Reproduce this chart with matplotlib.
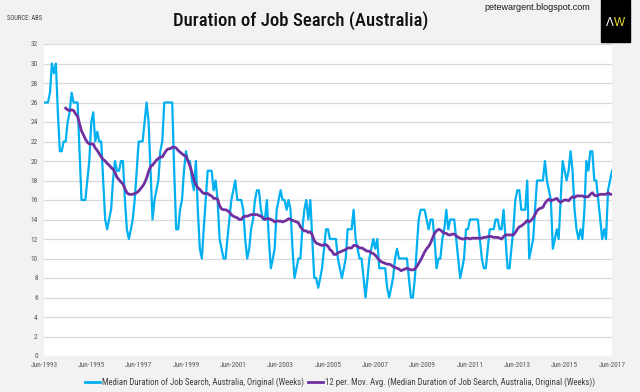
import numpy as np
import pandas as pd
import matplotlib
matplotlib.use("Agg")
import matplotlib.pyplot as plt
import matplotlib.dates as mdates
from matplotlib.lines import Line2D
from matplotlib.patches import Rectangle

# ---------------- data ----------------
start_month = "1993-06-01"
median_weeks = [
    26, 26, 26, 27, 30, 29, 30, 25, 21, 21, 22, 22,
    24, 25, 27, 26, 26, 26, 21, 16, 16, 16, 18, 20,
    24, 25, 22, 23, 22, 22, 18, 14, 13, 14, 15, 18,
    20, 19, 19, 20, 20, 16, 13, 12, 13, 14, 16, 19,
    22, 22, 22, 24, 26, 24, 19, 14, 16, 17, 18, 21,
    22, 26, 26, 26, 26, 26, 19, 13, 13, 15, 16, 19,
    21, 20, 20, 18, 17, 20, 15, 11, 10, 13, 16, 19,
    19, 19, 17, 18, 16, 12, 11, 10, 10, 12, 14, 16,
    17, 18, 16, 16, 16, 15, 12, 10, 11, 13, 14, 16,
    17, 17, 15, 14, 14, 16, 12, 9, 10, 11, 15, 16,
    17, 16, 16, 15, 16, 15, 11, 8, 9, 10, 10, 13,
    15, 16, 14, 16, 12, 8, 8, 7, 8, 9, 11, 13,
    13, 12, 12, 12, 12, 10, 9, 8, 9, 10, 13, 13,
    13, 15, 12, 11, 10, 10, 8, 6, 8, 10, 11, 12,
    11, 12, 9, 9, 9, 9, 7, 6, 7, 8, 10, 11,
    10, 10, 10, 10, 10, 8, 6, 6, 8, 11, 14, 15,
    15, 15, 14, 13, 14, 14, 12, 9, 10, 10, 12, 13,
    15, 13, 14, 14, 14, 12, 10, 8, 9, 10, 13, 13,
    14, 14, 14, 14, 14, 12, 10, 9, 9, 11, 13, 13,
    13, 14, 14, 13, 13, 15, 12, 9, 9, 11, 13, 16,
    17, 17, 15, 15, 15, 18, 10, 11, 12, 15, 18, 18,
    18, 18, 20, 18, 17, 16, 11, 12, 13, 12, 16, 20,
    19, 18, 19, 21, 19, 15, 13, 12, 13, 12, 15, 20,
    19, 21, 21, 18, 18, 16, 14, 12, 13, 12, 17, 18, 19,
]
ma_window = 12
y_ticks = list(range(0, 33, 2))
x_tick_start = "1993-06-01"
x_tick_end = "2017-06-01"

series_label = "Median Duration of Job Search, Australia, Original (Weeks)"
ma_label = "12 per. Mov. Avg. (Median Duration of Job Search, Australia, Original (Weeks))"
title = "Duration of Job Search (Australia)"

# ---------------- derived ----------------
dates = pd.date_range(start_month, periods=len(median_weeks), freq="MS")
values = pd.Series(median_weeks, index=dates, dtype=float)
moving_avg = values.rolling(ma_window).mean()
x_ticks = pd.date_range(x_tick_start, x_tick_end, freq="24MS")

narrow = ["Liberation Sans Narrow", "Roboto Condensed", "Open Sans Condensed",
          "DejaVu Sans Condensed", "DejaVu Sans"]
sans = ["Liberation Sans", "DejaVu Sans"]
STRETCH = "condensed"

W, H = 640, 392
fig = plt.figure(figsize=(W / 100, H / 100), dpi=100, facecolor="#f2f2f2")
ax = fig.add_axes([44 / W, 1 - 356 / H, 568 / W, 312 / H])
ax.set_facecolor("white")

blue = "#00b0f0"
purple = "#7030a0"
ax.plot(values.index, values.values, color=blue, lw=1.6, zorder=3)
ax.plot(moving_avg.index, moving_avg.values, color=purple, lw=2.0, zorder=4)

ax.set_ylim(0, 32)
ax.set_yticks(y_ticks)
ax.set_xlim(dates[0], dates[-1])
ax.set_xticks(x_ticks)
ax.xaxis.set_major_formatter(mdates.DateFormatter("%b-%Y"))
ax.grid(axis="y", color="#d9d9d9", lw=0.9, zorder=0)
ax.set_axisbelow(True)
for s in ax.spines.values():
    s.set_visible(False)
ax.tick_params(length=0, colors="#595959", labelsize=5.3)
ax.tick_params(axis="y", pad=4.5)
ax.tick_params(axis="x", pad=4)
for lab in ax.get_xticklabels() + ax.get_yticklabels():
    lab.set_family(narrow)
    lab.set_stretch(STRETCH)

handles = [Line2D([], [], color=blue, lw=2), Line2D([], [], color=purple, lw=2)]
fig.legend(handles, [series_label, ma_label], loc="center", ncol=2,
           bbox_to_anchor=(340 / W, 1 - 382 / H), frameon=False,
           prop={"family": narrow, "size": 6.3, "stretch": STRETCH},
           handlelength=1.8, handletextpad=0.2, columnspacing=0.4,
           labelcolor="#404040")

fig.text(301 / W, 1 - 21 / H, title, ha="center", va="center",
         fontsize=13.5, family=narrow, stretch=STRETCH, weight="medium",
         color="#111111")
fig.text(7 / W, 1 - 19 / H, "SOURCE: ABS", ha="left", va="center",
         fontsize=4.8, family=narrow, stretch=STRETCH, color="#404040")
fig.text(590 / W, 1 - 8 / H, "petewargent.blogspot.com", ha="right", va="center",
         fontsize=6.5, family=sans, color="#1a1a1a")

fig.patches.append(Rectangle((601 / W, 1 - 42 / H), 29 / W, 42 / H,
                             transform=fig.transFigure, color="black"))
fig.text(610 / W, 1 - 23 / H, "\u039b", ha="center", va="center",
         fontsize=8.5, color="white", family=sans)
fig.text(620 / W, 1 - 23 / H, "W", ha="center", va="center",
         fontsize=8.5, color="#e8dc28", family=sans)

fig.savefig("out.png", dpi=100, facecolor=fig.get_facecolor())
